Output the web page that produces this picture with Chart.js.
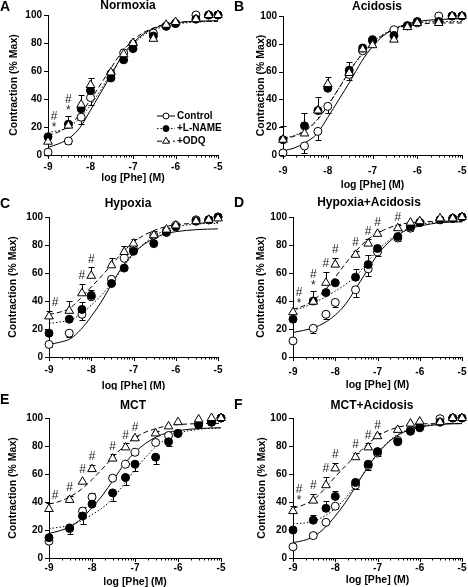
<!DOCTYPE html>
<html>
<head>
<meta charset="utf-8">
<script src="https://cdn.jsdelivr.net/npm/chart.js@4.4.0/dist/chart.umd.min.js"></script>
<style>
  body { margin: 0; background: #fff; }
  .panel { position: absolute; }
</style>
</head>
<body>
<script>
// Phe concentrations (log M) used for every panel
const logPhe = [-9, -8.52, -8.22, -8, -7.52, -7.22, -7, -6.52, -6.22, -6, -5.52, -5.22, -5];
const fitX = [-9, -8.75, -8.5, -8.25, -8, -7.75, -7.5, -7.25, -7, -6.75, -6.5, -6.25, -6, -5.5, -5];
const xTicks = [-9, -8, -7, -6, -5];
const yTicks = [0, 20, 40, 60, 80, 100];
const minorMult = [2, 3, 4, 5, 6, 7, 8, 9];
const seriesNames = ["Control", "+L-NAME", "+ODQ"];

// A - Normoxia
const normCtrl = [2, 10, 27, 41, 58, 73, 79, 87, 92, 94, 100, 100, 100];
const normLname = [13, 22, 33, 46, 55, 68, 76, 85, 92, 94, 97, 100, 100];
const normOdq = [9.5, 21, 36, 50, 59, 72, 80, 83, 93, 95, 97, 100, 100];
const normCtrlErr = [0, -2, -5, -5, 0, 0, 0, 0, 0, 0, 0, 0, 0];
const normLnameErr = [0, 0, 0, 3, 0, 0, 0, 0, 0, 0, 0, 0, 0];
const normOdqErr = [0, 7, 7, 5, 2, 2, 2, 0, 0, 0, 0, 0, 0];
const normCtrlFit = [5.5, 8, 12, 19.5, 32, 45, 58, 71, 80, 86.5, 90.5, 93, 94.5, 95.5, 96];
const normLnameFit = [16, 17.5, 20, 26.5, 35.5, 47, 59, 70.5, 79, 85.5, 89.5, 92, 93.5, 95, 95.5];
const normOdqFit = [14, 16.5, 21, 29, 39.5, 51, 63, 74, 82, 87.5, 91, 93.5, 94.5, 95.5, 95.5];
const normHash = [0, 1];
const normStar = [0, 1];

// B - Acidosis
const acidCtrl = [1.5, 6.5, 17, 35, 58, 75, 82, 90, 93, 95, 100, 100, 100];
const acidLname = [11, 21, 32, 48, 61, 77, 83, 86, 93, 96, 96, 100, 100];
const acidOdq = [11, 15.5, 32, 51, 59, 76, 79, 83, 92, 95, 95, 100, 100];
const acidCtrlErr = [0, -5, -6, -5, -4, 0, 0, 0, 0, 0, 0, 0, 0];
const acidLnameErr = [10, 9, 10, 0, 6, 0, 0, 0, 0, 0, 0, 0, 0];
const acidOdqErr = [0, 0, 0, 5, 0, 0, 0, 0, 0, 0, 0, 0, 0];
const acidCtrlFit = [3, 5, 9, 15, 27, 40, 53, 67, 78, 86, 91, 94, 96, 97.5, 98];
const acidLnameFit = [12, 14, 18, 25, 36, 48, 61, 72, 81, 87, 91, 93.5, 95, 96, 96];
const acidOdqFit = [11.5, 13.5, 17.5, 24.5, 35.5, 48, 61, 72, 80.5, 86.5, 90.5, 93, 94, 95, 95];
const acidHash = [];
const acidStar = [];

// C - Hypoxia
const hypoCtrl = [9, 17, 30.5, 43, 55.5, 70.5, 77, 87, 90, 94, 98, 98, 100];
const hypoLname = [17, 27, 34, 44, 52.5, 63.5, 75.5, 81, 89, 93, 97, 98, 100];
const hypoOdq = [29, 33, 45.5, 58, 65.5, 75, 81, 87, 91, 94, 97, 98, 99];
const hypoCtrlErr = [-2, -3, -4, 0, -3, 0, 0, 0, 0, 0, 0, 0, 0];
const hypoLnameErr = [0, 0, 5, 4, 0, 0, 0, 0, 0, 0, 0, 0, 0];
const hypoOdqErr = [4, 7, 7, 6, 5, 4, 3, 3, 0, 0, 0, 0, 0];
const hypoCtrlFit = [9, 10.5, 13, 19.5, 29, 40, 53, 65, 74, 80.5, 85, 88, 89.5, 91, 91.5];
const hypoLnameFit = [24, 25, 26.5, 30.5, 37, 44.5, 53.5, 64, 73.5, 81, 86.5, 90.5, 93, 95, 95.5];
const hypoOdqFit = [30.5, 32, 35, 42, 50, 58, 66.5, 75, 82, 87, 90.5, 93, 94.5, 95.5, 96];
const hypoHash = [0, 2, 3];
const hypoStar = [];

// D - Hypoxia+Acidosis
const haCtrl = [11.5, 20.5, 30.5, 39, 48, 63, 75, 85, 92, 96, 98, 99, 100];
const haLname = [27, 40, 46, 53, 57, 66, 77.5, 86, 93, 96, 98, 99, 100];
const haOdq = [32, 39.5, 53, 66, 73, 81, 88, 92, 96, 97, 99, 99, 100];
const haCtrlErr = [0, -3, -3, -3, -5, -5, -3, -2, -2, 0, 0, 0, 0];
const haLnameErr = [0, 0, 0, 0, 6, 7, 0, 0, 0, 0, 0, 0, 0];
const haOdqErr = [0, 8, 8, 5, 3, 3, 2, 2, 0, 0, 0, 0, 0];
const haCtrlFit = [17.5, 19, 21, 24.5, 30, 38, 49.5, 61.5, 73, 81.5, 87.5, 91.5, 93.5, 96, 96.5];
const haLnameFit = [33.5, 35.5, 39, 42.5, 47, 52, 58, 67.5, 76, 83, 88.5, 92, 94.5, 96.5, 97];
const haOdqFit = [34, 36.5, 41, 47.5, 57, 67, 76, 83.5, 88.5, 92, 94.5, 95.8, 96.4, 97, 97];
const haHash = [0, 1, 2, 3, 4, 5, 6, 7];
const haStar = [0, 1];

// E - MCT
const mctCtrl = [12, 21, 33.5, 43.5, 57, 67, 75.5, 82.5, 87.5, 89, 96, 97, 100];
const mctLname = [14.5, 21.5, 30, 38.5, 46.5, 57.5, 67, 72, 83, 89, 95, 97, 100];
const mctOdq = [35, 41.5, 54.5, 63.5, 71, 79, 85.5, 89, 94, 97, 99, 100, 100];
const mctCtrlErr = [0, 0, 3, 3, 2, 0, 0, 0, 0, 0, 0, 0, 0];
const mctLnameErr = [0, -4, -6, 0, -6, -5, -5, -5, -3, 0, 0, 0, 0];
const mctOdqErr = [4, 3, 0, 3, 3, 3, 2, 2, 0, 0, 0, 0, 0];
const mctCtrlFit = [17.5, 19.5, 22.5, 28, 36, 45, 56, 67, 75.5, 82, 86.5, 89.5, 91, 92.5, 93];
const mctLnameFit = [21, 22, 23.5, 26.5, 31, 36, 43, 53, 63, 72, 80, 85.5, 89, 92, 93];
const mctOdqFit = [38.5, 40.5, 44, 49, 56, 64, 72.5, 80, 86, 90, 92.5, 94.5, 95.3, 96, 96.2];
const mctHash = [0, 1, 2, 3, 4, 5, 6];
const mctStar = [];

// F - MCT+Acidosis
const maCtrl = [8, 16, 25.5, 37, 52, 66, 75, 84, 91.5, 93.5, 99.5, 100, 100];
const maLname = [20, 27, 35.5, 44, 54, 67, 76, 83, 90.5, 93, 97, 100, 100];
const maOdq = [33.5, 41, 52, 64, 72, 79, 87, 91.5, 96, 97.5, 97, 100, 100];
const maCtrlErr = [0, 0, 0, 0, -3, -3, -2, 0, 0, 0, 0, 0, 0];
const maLnameErr = [0, 4, 5, 4, 2, 2, 2, 0, 0, 0, 0, 0, 0];
const maOdqErr = [4, 5, 6, 4, 3, 3, 2, 0, 0, 0, 0, 0, 0];
const maCtrlFit = [11, 12.5, 15.5, 21.5, 30, 40, 52, 64, 74.5, 82.5, 88, 91.5, 93.5, 95.5, 96];
const maLnameFit = [24.5, 25, 26.5, 30, 35.5, 43, 53, 64, 74.5, 83, 88.5, 92, 94, 95.7, 96];
const maOdqFit = [35.5, 38, 42, 49.5, 58, 66, 73.5, 81, 87, 91, 93.5, 95, 95.7, 96, 96.2];
const maHash = [0, 1, 2, 3, 4, 5, 6];
const maStar = [0];

const FONT = '"Liberation Sans", Arial, sans-serif';

// style of each group: marker, fill, curve dash
const styles = [
  { point: "circle", fill: "#fff", radius: 4, dash: [] },
  { point: "circle", fill: "#000", radius: 4, dash: [1.5, 2] },
  { point: "triangle", fill: "#fff", radius: 5, dash: [5, 3] }
];

const panels = [
  { letter: "A", title: "Normoxia", vals: [normCtrl, normLname, normOdq], errs: [normCtrlErr, normLnameErr, normOdqErr],
    fits: [normCtrlFit, normLnameFit, normOdqFit], hash: normHash, star: normStar,
    box: [0, 0, 234, 195], plot: [48, 15, 218, 155], letterY: 7, titleX: 128, titleY: 6, yTitleX: 14, xLabelY: 167, xTitleY: 178, legend: true },
  { letter: "B", title: "Acidosis", vals: [acidCtrl, acidLname, acidOdq], errs: [acidCtrlErr, acidLnameErr, acidOdqErr],
    fits: [acidCtrlFit, acidLnameFit, acidOdqFit], hash: acidHash, star: acidStar,
    box: [234, 0, 234, 195], plot: [49, 16, 229, 155], letterY: 7, titleX: 143, titleY: 7, yTitleX: 27, xLabelY: 171, xTitleY: 185 },
  { letter: "C", title: "Hypoxia", vals: [hypoCtrl, hypoLname, hypoOdq], errs: [hypoCtrlErr, hypoLnameErr, hypoOdqErr],
    fits: [hypoCtrlFit, hypoLnameFit, hypoOdqFit], hash: hypoHash, star: hypoStar,
    box: [0, 195, 234, 195], plot: [49, 22, 218, 162], letterY: 9, titleX: 128, titleY: 9, yTitleX: 13, xLabelY: 175, xTitleY: 191 },
  { letter: "D", title: "Hypoxia+Acidosis", vals: [haCtrl, haLname, haOdq], errs: [haCtrlErr, haLnameErr, haOdqErr],
    fits: [haCtrlFit, haLnameFit, haOdqFit], hash: haHash, star: haStar,
    box: [234, 195, 234, 195], plot: [59, 22, 229, 162], letterY: 8, titleX: 135, titleY: 8, yTitleX: 27, xLabelY: 177, xTitleY: 190 },
  { letter: "E", title: "MCT", vals: [mctCtrl, mctLname, mctOdq], errs: [mctCtrlErr, mctLnameErr, mctOdqErr],
    fits: [mctCtrlFit, mctLnameFit, mctOdqFit], hash: mctHash, star: mctStar,
    box: [0, 390, 234, 197], plot: [49, 28, 221, 168], letterY: 10, titleX: 133, titleY: 16, yTitleX: 13, xLabelY: 178, xTitleY: 192 },
  { letter: "F", title: "MCT+Acidosis", vals: [maCtrl, maLname, maOdq], errs: [maCtrlErr, maLnameErr, maOdqErr],
    fits: [maCtrlFit, maLnameFit, maOdqFit], hash: maHash, star: maStar,
    box: [234, 390, 234, 197], plot: [59, 28, 230, 168], letterY: 15, titleX: 138, titleY: 16, yTitleX: 28, xLabelY: 178, xTitleY: 190 }
];

function drawMarker(ctx, st, x, y) {
  ctx.beginPath();
  if (st.point === "triangle") {
    const r = st.radius;
    ctx.moveTo(x, y - r);
    ctx.lineTo(x + r * 0.866, y + r * 0.5);
    ctx.lineTo(x - r * 0.866, y + r * 0.5);
    ctx.closePath();
  } else {
    ctx.arc(x, y, st.radius, 0, Math.PI * 2);
  }
  ctx.fillStyle = st.fill;
  ctx.fill();
  ctx.stroke();
}

const decor = {
  id: "decor",
  beforeDatasetsDraw(chart, args, opts) {
    const p = opts.panel;
    const ctx = chart.ctx, xs = chart.scales.x, ys = chart.scales.y;
    ctx.save();
    ctx.strokeStyle = "#000";
    ctx.lineWidth = 1;
    p.errs.forEach((err, s) => {
      err.forEach((e, i) => {
        if (!e) return;
        const x = Math.round(xs.getPixelForValue(logPhe[i])) + 0.5;
        const y0 = ys.getPixelForValue(p.vals[s][i]);
        const y1 = Math.round(ys.getPixelForValue(p.vals[s][i] + e)) + 0.5;
        ctx.beginPath();
        ctx.moveTo(x, y0);
        ctx.lineTo(x, y1);
        ctx.moveTo(x - 3, y1);
        ctx.lineTo(x + 3, y1);
        ctx.stroke();
      });
    });
    ctx.restore();
  },
  afterDraw(chart, args, opts) {
    const p = opts.panel;
    const ctx = chart.ctx, xs = chart.scales.x, ys = chart.scales.y;
    const a = chart.chartArea;
    ctx.save();
    ctx.strokeStyle = "#000";
    ctx.fillStyle = "#000";
    ctx.lineWidth = 1;

    // tick marks
    ctx.beginPath();
    yTicks.forEach(v => {
      const y = Math.round(ys.getPixelForValue(v)) + 0.5;
      ctx.moveTo(a.left - 4, y);
      ctx.lineTo(a.left, y);
    });
    xTicks.forEach(v => {
      const x = Math.round(xs.getPixelForValue(v)) + 0.5;
      ctx.moveTo(x, a.bottom);
      ctx.lineTo(x, a.bottom + 4);
    });
    xTicks.slice(0, -1).forEach(d => {
      minorMult.forEach(k => {
        const x = Math.round(xs.getPixelForValue(d + Math.log10(k))) + 0.5;
        ctx.moveTo(x, a.bottom);
        ctx.lineTo(x, a.bottom + 2.5);
      });
    });
    ctx.stroke();

    // tick labels
    ctx.font = "bold 10px " + FONT;
    ctx.textAlign = "right";
    ctx.textBaseline = "middle";
    yTicks.forEach(v => ctx.fillText(String(v), a.left - 6, ys.getPixelForValue(v)));
    ctx.textAlign = "center";
    xTicks.forEach(v => ctx.fillText(String(v), xs.getPixelForValue(v), p.xLabelY));

    // axis titles
    ctx.font = "bold 10.5px " + FONT;
    ctx.fillText("log [Phe] (M)", (a.left + a.right) / 2, p.xTitleY);
    ctx.save();
    ctx.translate(p.yTitleX, (a.top + a.bottom) / 2);
    ctx.rotate(-Math.PI / 2);
    ctx.fillText("Contraction (% Max)", 0, 0);
    ctx.restore();

    // panel letter and title
    ctx.textAlign = "left";
    ctx.font = "bold 14px " + FONT;
    ctx.fillText(p.letter, 0, p.letterY);
    ctx.textAlign = "center";
    ctx.font = "bold 12px " + FONT;
    ctx.fillText(p.title, p.titleX, p.titleY);

    // significance marks
    ctx.font = "12px " + FONT;
    ctx.fillStyle = "#222";
    const topOf = i => {
      let top = Infinity;
      p.vals.forEach((vals, s) => {
        const e = Math.max(p.errs[s][i], 0);
        top = Math.min(top, ys.getPixelForValue(vals[i] + e) - (e ? 0 : 4));
      });
      return top;
    };
    p.hash.forEach(i => {
      const x = xs.getPixelForValue(logPhe[i]) + (i === 0 ? 6 : 0);
      const hasStar = p.star.includes(i);
      const top = topOf(i);
      if (hasStar) ctx.fillText("*", x, top - 5);
      ctx.fillText("#", x, top - (hasStar ? 16 : 8));
    });
    p.star.filter(i => !p.hash.includes(i)).forEach(i => {
      const x = xs.getPixelForValue(logPhe[i]) + (i === 0 ? 6 : 0);
      ctx.fillText("*", x, topOf(i) - 5);
    });

    // legend (panel A only)
    if (p.legend) {
      ctx.font = "bold 10px " + FONT;
      ctx.textAlign = "left";
      seriesNames.forEach((name, s) => {
        const y = 116 + s * 12.6;
        const st = styles[s];
        ctx.setLineDash(st.dash);
        ctx.beginPath();
        ctx.moveTo(157, y);
        ctx.lineTo(175, y);
        ctx.stroke();
        ctx.setLineDash([]);
        drawMarker(ctx, { point: st.point, fill: st.fill, radius: st.radius - 1 }, 166, y);
        ctx.fillStyle = "#000";
        ctx.fillText(name, 177, y);
      });
    }
    ctx.restore();
  }
};

panels.forEach(p => {
  const [bx, by, bw, bh] = p.box;
  const [pl, pt, pr, pb] = p.plot;
  const div = document.createElement("div");
  div.className = "panel";
  div.style.left = bx + "px";
  div.style.top = by + "px";
  const canvas = document.createElement("canvas");
  canvas.width = bw;
  canvas.height = bh;
  canvas.style.width = bw + "px";
  canvas.style.height = bh + "px";
  div.appendChild(canvas);
  document.body.appendChild(div);

  const datasets = [];
  p.fits.forEach((fit, s) => {
    datasets.push({
      data: fit.map((v, i) => ({ x: fitX[i], y: v })),
      showLine: true,
      borderColor: "#000",
      borderWidth: 1,
      borderDash: styles[s].dash,
      pointRadius: 0,
      cubicInterpolationMode: "monotone",
      clip: false,
      order: 5 - s
    });
  });
  // open circles at the bottom, triangles on top
  const pointOrder = [2, 1, 0];
  p.vals.forEach((vals, s) => {
    datasets.push({
      data: vals.map((v, i) => ({ x: logPhe[i], y: v })),
      showLine: false,
      pointStyle: styles[s].point,
      pointRadius: styles[s].radius,
      pointBackgroundColor: styles[s].fill,
      pointBorderColor: "#000",
      pointBorderWidth: 1,
      clip: false,
      order: pointOrder[s]
    });
  });

  new Chart(canvas, {
    type: "scatter",
    data: { datasets },
    options: {
      responsive: false,
      animation: false,
      devicePixelRatio: 1,
      layout: { padding: { left: 0, top: pt, right: bw - pr, bottom: 0 } },
      scales: {
        x: {
          type: "linear", min: -9, max: -5,
          ticks: { display: false },
          grid: { display: false },
          border: { display: true, color: "#000", width: 1 },
          afterFit(s) { s.height = bh - pb; }
        },
        y: {
          min: 0, max: 100,
          ticks: { display: false },
          grid: { display: false },
          border: { display: true, color: "#000", width: 1 },
          afterFit(s) { s.width = pl; }
        }
      },
      plugins: {
        legend: { display: false },
        tooltip: { enabled: false },
        decor: { panel: p }
      }
    },
    plugins: [decor]
  });
});
</script>
</body>
</html>
